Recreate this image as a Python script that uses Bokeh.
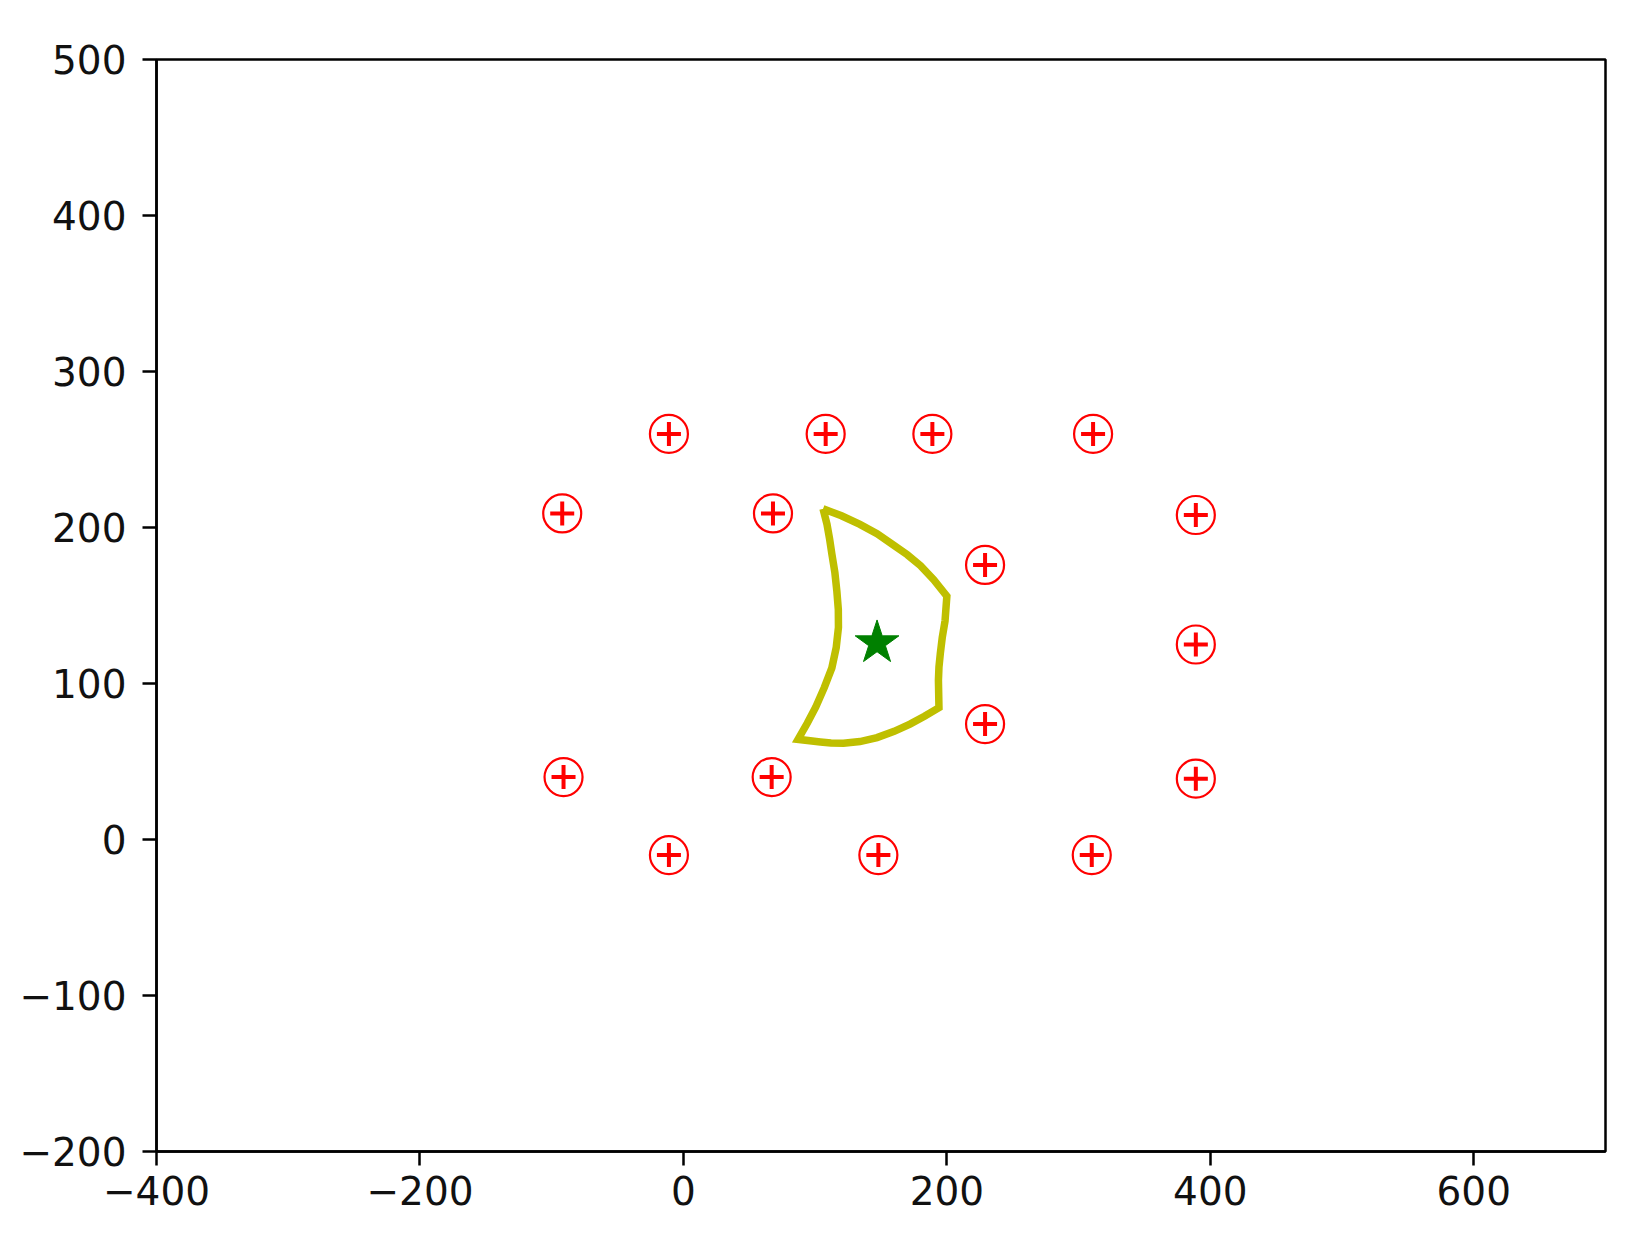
from bokeh.plotting import figure
from bokeh.models import FixedTicker, Range1d
from bokeh.embed import file_html
from bokeh.resources import INLINE

# Red target points
pts_x = [-11, 108, 189, 311, -92, 68, 389, 229, 389, 229, -91, 67, 389, -11, 148, 310]
pts_y = [260, 260, 260, 260, 209, 209, 208, 176, 125, 74, 40, 40, 39, -10, -10, -10]

# Green star
star_x = [147]
star_y = [126]

# Yellow region boundary
shape_x = [106, 120, 134, 147, 159, 170, 180, 190, 200, 198.6, 196.5, 195, 194, 193.6, 194,
           183, 172, 160, 147, 134, 121.5, 112, 104, 87,
           94, 100.5, 107, 112.7, 116, 117.7, 117.6, 116.5, 115, 112.7, 111, 109, 106]
shape_y = [212, 207.5, 202, 196, 189, 182.5, 175.5, 166.5, 156, 140, 129.5, 119, 110.5, 102, 84.5,
           79, 74, 69.3, 65.3, 62.8, 61.7, 61.8, 62.5, 64.2,
           74.5, 85, 97.5, 110, 123, 136, 147.5, 159, 171, 183, 192.5, 202, 212]

x_ticks = [-400, -200, 0, 200, 400, 600]
x_tick_labels = ["\u2212400", "\u2212200", "0", "200", "400", "600"]
y_ticks = [-200, -100, 0, 100, 200, 300, 400, 500]
y_tick_labels = ["\u2212200", "\u2212100", "0", "100", "200", "300", "400", "500"]

p = figure(width=1625, height=1220, output_backend="svg", toolbar_location=None,
           x_range=Range1d(-400, 700), y_range=Range1d(-200, 500),
           min_border_left=156, min_border_top=59, min_border_right=20, min_border_bottom=69)

p.grid.visible = False
p.background_fill_color = "white"
p.border_fill_color = "white"
p.outline_line_color = "black"
p.outline_line_width = 2.5

for ax, ticks, labels in ((p.xaxis[0], x_ticks, x_tick_labels), (p.yaxis[0], y_ticks, y_tick_labels)):
    ax.ticker = FixedTicker(ticks=ticks)
    ax.major_label_overrides = {t: l for t, l in zip(ticks, labels)}
    ax.axis_line_width = 2.5
    ax.axis_line_color = "black"
    ax.major_tick_line_width = 2.5
    ax.major_tick_line_color = "black"
    ax.major_tick_out = 14
    ax.major_tick_in = 0
    ax.minor_tick_line_color = None
    ax.major_label_text_font = "DejaVu Sans"
    ax.major_label_text_font_size = "39px"
    ax.major_label_text_color = "#111111"

p.xaxis.major_label_standoff = 10
p.yaxis.major_label_standoff = 16

p.line(shape_x, shape_y, line_color="#bfbf00", line_width=7.5, line_join="miter")

p.scatter(pts_x, pts_y, marker="circle", size=38, fill_color=None,
          line_color="red", line_width=2.2)
p.scatter(pts_x, pts_y, marker="cross", size=24, line_color="red", line_width=4)

p.scatter(star_x, star_y, marker="star", size=46, fill_color="green", line_color="green",
          line_width=1)

open("out.html", "w").write(file_html(p, INLINE))
